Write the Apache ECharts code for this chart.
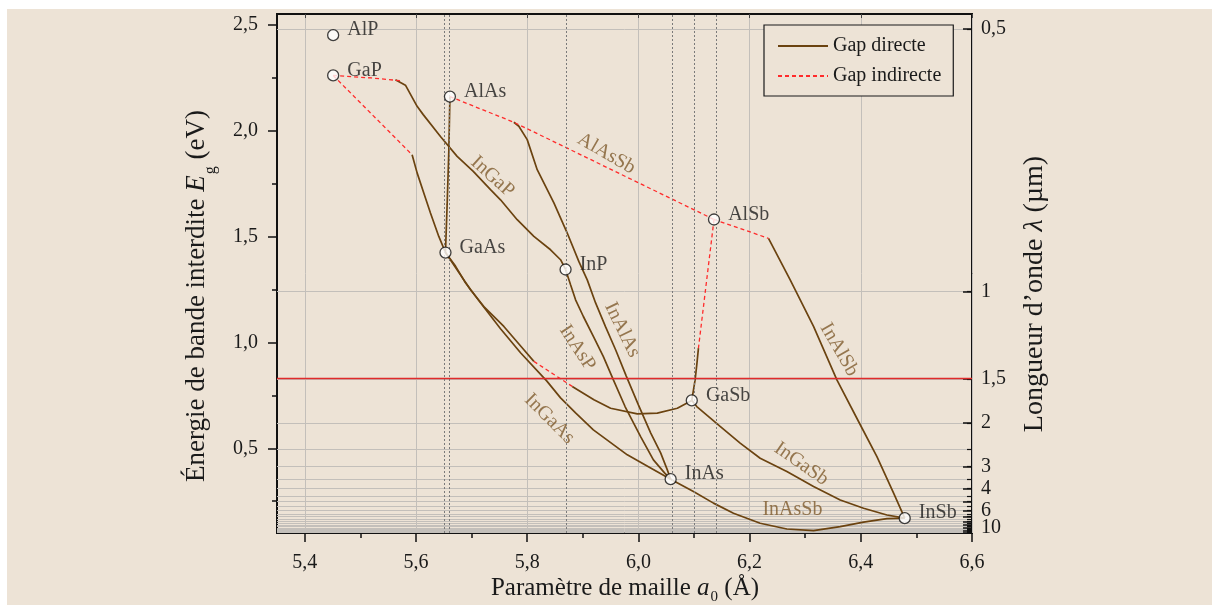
<!DOCTYPE html>
<html>
<head>
<meta charset="utf-8">
<script src="https://cdn.jsdelivr.net/npm/echarts@6/dist/echarts.min.js"></script>
<style>
  html, body { margin: 0; padding: 0; background: #ffffff; }
  #paper { position: absolute; left: 7px; top: 9px; width: 1205px; height: 596px; background: #ede3d6; }
  #chart { position: absolute; left: 0; top: 0; width: 1212px; height: 605px; }
</style>
</head>
<body>
<div id="paper"></div>
<div id="chart"></div>
<script>
// Photon energy <-> wavelength: E (eV) = HC / lambda (µm)
const HC = 1.24;

// Binary compounds: lattice constant a0 (Å) and band gap Eg (eV)
const materials        = ['AlP', 'GaP', 'AlAs', 'GaAs', 'InP', 'AlSb', 'GaSb', 'InAs', 'InSb'];
const latticeConstants = [5.451, 5.451, 5.661, 5.653, 5.869, 6.136, 6.096, 6.058, 6.479];
const bandGaps         = [2.45, 2.26, 2.16, 1.424, 1.344, 1.58, 0.726, 0.354, 0.17];
// Binaries marked with a vertical dotted guide
const guideMaterials = ['GaAs', 'AlAs', 'InP', 'InAs', 'GaSb', 'AlSb'];

// Axis ticks
const latticeTicks      = [5.4, 5.6, 5.8, 6.0, 6.2, 6.4, 6.6];
const latticeMinorTicks = [5.4, 5.5, 5.6, 5.7, 5.8, 5.9, 6.0, 6.1, 6.2, 6.3, 6.4, 6.5, 6.6];
const energyTicks       = [0.5, 1.0, 1.5, 2.0, 2.5];
const energyMinorTicks  = [0.25, 0.75, 1.25, 1.75, 2.25];
const wavelengthLabels  = [0.5, 1, 1.5, 2, 3, 4, 6, 10];
const wavelengthMajor   = [0.5, 1, 1.5, 2, 3, 4, 5, 6, 7, 8, 9, 10, 11, 12];
const wavelengthGrid    = [0.5, 1, 1.5, 2, 2.5, 3, 3.5, 4, 4.5, 5, 5.5, 6, 6.5, 7, 7.5,
                           8, 8.5, 9, 9.5, 10, 10.5, 11, 11.5, 12];
const telecomWavelength = 1.5;

// Ternary alloys, direct-gap branches: [a0 (Å), Eg (eV)]
const InGaP_direct  = [[5.563, 2.240], [5.581, 2.214], [5.602, 2.114], [5.613, 2.075], [5.644, 1.972],
                       [5.674, 1.878], [5.703, 1.807], [5.734, 1.721], [5.752, 1.673], [5.782, 1.579],
                       [5.812, 1.500], [5.842, 1.437], [5.860, 1.390], [5.869, 1.344]];
const GaAsP_direct  = [[5.593, 1.886], [5.602, 1.800], [5.614, 1.705], [5.626, 1.611], [5.641, 1.500],
                       [5.653, 1.424]];
const AlGaAs        = [[5.661, 2.160], [5.659, 1.900], [5.656, 1.650], [5.653, 1.424]];
const InAlAs_direct = [[5.776, 2.039], [5.785, 2.020], [5.800, 1.957], [5.818, 1.815], [5.848, 1.658],
                       [5.872, 1.516], [5.893, 1.381], [5.908, 1.295], [5.923, 1.186], [5.941, 1.073],
                       [5.959, 0.965], [5.978, 0.842], [6.000, 0.705], [6.022, 0.573], [6.040, 0.478],
                       [6.052, 0.398], [6.058, 0.354]];
const InAsP         = [[5.869, 1.344], [5.878, 1.272], [5.887, 1.201], [5.901, 1.122], [5.919, 1.028],
                       [5.937, 0.933], [5.955, 0.823], [5.976, 0.697], [6.004, 0.555], [6.027, 0.445],
                       [6.047, 0.384], [6.058, 0.354]];
const InGaAs        = [[5.653, 1.424], [5.671, 1.360], [5.689, 1.281], [5.716, 1.187], [5.752, 1.064],
                       [5.788, 0.951], [5.835, 0.818], [5.860, 0.738], [5.887, 0.667], [5.919, 0.587],
                       [5.980, 0.469], [6.022, 0.407], [6.058, 0.354]];
const GaAsSb_upper  = [[5.653, 1.424], [5.698, 1.248], [5.722, 1.169], [5.758, 1.075], [5.794, 0.965],
                       [5.812, 0.910]];
const GaAsSb_lower  = [[5.881, 0.792], [5.920, 0.729], [5.950, 0.689], [5.998, 0.662], [6.034, 0.666],
                       [6.070, 0.689], [6.096, 0.726]];
const AlGaSb_direct = [[6.108, 0.973], [6.105, 0.894], [6.102, 0.823], [6.096, 0.726]];
const InAlSb_direct = [[6.234, 1.491], [6.273, 1.295], [6.315, 1.075], [6.357, 0.823], [6.399, 0.611],
                       [6.429, 0.461], [6.459, 0.288], [6.479, 0.170]];
const InGaSb        = [[6.096, 0.726], [6.105, 0.697], [6.147, 0.603], [6.183, 0.524], [6.219, 0.453],
                       [6.267, 0.390], [6.315, 0.319], [6.363, 0.256], [6.405, 0.217], [6.447, 0.185],
                       [6.479, 0.170]];
const InAsSb        = [[6.058, 0.354], [6.099, 0.296], [6.135, 0.241], [6.171, 0.193], [6.219, 0.146],
                       [6.267, 0.119], [6.315, 0.111], [6.363, 0.130], [6.405, 0.151], [6.447, 0.168],
                       [6.479, 0.170]];

// Indirect-gap branches (and the GaAsSb miscibility gap)
const InGaP_indirect  = [[5.451, 2.260], [5.520, 2.248], [5.572, 2.235]];
const GaAsP_indirect  = [[5.451, 2.260], [5.591, 1.891]];
const AlAsSb          = [[5.661, 2.160], [5.776, 2.039], [6.136, 1.580]];
const GaAsSb_gap      = [[5.812, 0.910], [5.846, 0.852], [5.881, 0.792]];
const AlGaSb_indirect = [[6.136, 1.580], [6.108, 0.973]];
const InAlSb_indirect = [[6.136, 1.580], [6.234, 1.491]];

const directBranches   = [InGaP_direct, GaAsP_direct, AlGaAs, InAlAs_direct, InAsP, InGaAs,
                          GaAsSb_upper, GaAsSb_lower, AlGaSb_direct, InAlSb_direct, InGaSb, InAsSb];
const indirectBranches = [InGaP_indirect, GaAsP_indirect, AlAsSb, GaAsSb_gap, AlGaSb_indirect, InAlSb_indirect];

// Alloy names written along their curves: [name, a0, Eg]
const alloyNames = [
  ['InGaP', 5.7375, 1.782],
  ['AlAsSb', 5.9425, 1.891],
  ['InAlAs', 5.971, 1.059],
  ['InAsP', 5.890, 0.974],
  ['InGaAs', 5.840, 0.639],
  ['InAlSb', 6.361, 0.965],
  ['InGaSb', 6.293, 0.426],
  ['InAsSb', 6.277, 0.209]
];
const alloyAngles = { InGaP: -42, AlAsSb: -30, InAlAs: -64, InAsP: -57, InGaAs: -45, InAlSb: -60, InGaSb: -35, InAsSb: 0 };

// ---- styling ----
const FONT = 'Liberation Serif';
const INK = '#1a1a1a';
const BROWN = '#6b4310';
const LABEL_BROWN = '#7e5a2c';
const RED = '#ff2b2b';
const GRID_GRAY = '#c3bfba';

const comma = v => String(v).replace('.', ',');
const fixed1 = v => v.toFixed(1).replace('.', ',');
const toEnergy = lam => HC / lam;
const wavelengthText = v => comma(Math.round(HC / v * 2) / 2);

// The wavelength labels crowd together near the bottom, so they are shared
// alternately between the two right-hand axes (no label collides with its neighbour).
const wavelengthLabelsA = wavelengthLabels.filter((_, i) => i % 2 === 0);
const wavelengthLabelsB = wavelengthLabels.filter((_, i) => i % 2 === 1);

const X_RANGE = { min: 5.35, max: 6.6 };
const Y_RANGE = { min: 0.1, max: 2.55 };

const chart = echarts.init(document.getElementById('chart'), null, { renderer: 'canvas' });

const curveSeries = [];
directBranches.forEach(d => curveSeries.push({
  type: 'line', name: 'Gap directe', data: d, symbol: 'none', silent: true, z: 3,
  lineStyle: { color: BROWN, width: 1.7 }, itemStyle: { color: BROWN }
}));
indirectBranches.forEach(d => curveSeries.push({
  type: 'line', name: 'Gap indirecte', data: d, symbol: 'none', silent: true, z: 3,
  lineStyle: { color: RED, width: 1.3, type: [4, 3] }, itemStyle: { color: RED }
}));

const guideLines = guideMaterials.map(m => ({ xAxis: latticeConstants[materials.indexOf(m)] }));

const rightLabelStyle = {
  margin: 9, fontSize: 20, color: INK, fontFamily: FONT,
  showMinLabel: true, showMaxLabel: true, formatter: wavelengthText
};

const option = {
  animation: false,
  backgroundColor: 'transparent',
  textStyle: { fontFamily: FONT },
  grid: {
    left: 277, top: 14, width: 695, height: 519,
    containLabel: false, outerBoundsMode: 'none',
    show: true, borderColor: '#111', borderWidth: 2, backgroundColor: 'transparent'
  },
  legend: {
    data: ['Gap directe', 'Gap indirecte'],
    orient: 'vertical', left: 764, top: 25,
    itemWidth: 50, itemHeight: 14, itemGap: 10, itemTextGap: 6,
    padding: [11, 12, 10, 13],
    backgroundColor: '#ede3d6', borderColor: INK, borderWidth: 1.2, borderRadius: 0,
    itemStyle: { opacity: 0, borderWidth: 0 },
    textStyle: { fontFamily: FONT, fontSize: 20, color: INK },
    selectedMode: false
  },
  xAxis: [
    {
      type: 'value', ...X_RANGE, position: 'bottom',
      axisLine: { show: false },
      axisTick: { show: true, customValues: latticeTicks, length: 9, lineStyle: { color: '#111', width: 1.5 } },
      axisLabel: { customValues: latticeTicks, formatter: fixed1, margin: 20, fontSize: 20, color: INK, fontFamily: FONT },
      splitLine: { show: true, lineStyle: { color: GRID_GRAY, width: 1 } }
    },
    {
      type: 'value', ...X_RANGE, position: 'bottom',
      axisLine: { show: false },
      axisTick: { show: true, customValues: latticeMinorTicks, length: 5, lineStyle: { color: '#111', width: 1.5 } },
      axisLabel: { show: false }, splitLine: { show: false }
    },
    {
      type: 'value', ...X_RANGE, position: 'top',
      axisLine: { show: false },
      axisTick: { show: true, inside: true, customValues: latticeTicks, length: 4, lineStyle: { color: '#444', width: 1 } },
      axisLabel: { show: false }, splitLine: { show: false }
    }
  ],
  yAxis: [
    {
      type: 'value', ...Y_RANGE, position: 'left',
      axisLine: { show: false },
      axisTick: { show: true, customValues: energyTicks, length: 9, lineStyle: { color: '#111', width: 1.5 } },
      axisLabel: { customValues: energyTicks, formatter: fixed1, margin: 19, fontSize: 20, color: INK, fontFamily: FONT },
      splitLine: { show: false }
    },
    {
      type: 'value', ...Y_RANGE, position: 'left',
      axisLine: { show: false },
      axisTick: { show: true, customValues: energyMinorTicks, length: 5, lineStyle: { color: '#111', width: 1.5 } },
      axisLabel: { show: false }, splitLine: { show: false }
    },
    {
      type: 'value', ...Y_RANGE, position: 'right',
      axisLine: { show: false },
      axisTick: { show: true, inside: true, customValues: wavelengthMajor.map(toEnergy), length: 9, lineStyle: { color: '#111', width: 1.5 } },
      axisLabel: { ...rightLabelStyle, customValues: wavelengthLabelsA.map(toEnergy) },
      splitLine: { show: false }
    },
    {
      type: 'value', ...Y_RANGE, position: 'right',
      axisLine: { show: false },
      axisTick: { show: true, inside: true, customValues: wavelengthGrid.map(toEnergy), length: 5, lineStyle: { color: '#111', width: 1.2 } },
      axisLabel: { ...rightLabelStyle, customValues: wavelengthLabelsB.map(toEnergy) },
      splitLine: { show: true, lineStyle: { color: GRID_GRAY, width: 1 } }
    }
  ],
  graphic: [
    {
      type: 'text', x: 625, y: 588, silent: true,
      style: {
        text: 'Paramètre de maille {i|a}{s|0} (Å)',
        fontFamily: FONT, fontSize: 25, fill: INK, align: 'center', verticalAlign: 'middle',
        rich: {
          i: { fontFamily: FONT, fontSize: 25, fontStyle: 'italic', fill: INK },
          s: { fontFamily: FONT, fontSize: 15, fill: INK, verticalAlign: 'bottom', padding: [19, 0, 0, 1] }
        }
      }
    },
    {
      type: 'text', x: 197, y: 296, rotation: Math.PI / 2, silent: true,
      style: {
        text: 'Énergie de bande interdite {i|E}{s|g} (eV)',
        fontFamily: FONT, fontSize: 27, fill: INK, align: 'center', verticalAlign: 'middle',
        rich: {
          i: { fontFamily: FONT, fontSize: 27, fontStyle: 'italic', fill: INK },
          s: { fontFamily: FONT, fontSize: 16, fill: INK, verticalAlign: 'bottom', padding: [27, 0, 0, 1] }
        }
      }
    },
    {
      type: 'text', x: 1035, y: 294, rotation: Math.PI / 2, silent: true,
      style: {
        text: 'Longueur d’onde {i|λ} (µm)',
        fontFamily: FONT, fontSize: 28, fill: INK, align: 'center', verticalAlign: 'middle',
        rich: {
          i: { fontFamily: FONT, fontSize: 28, fontStyle: 'italic', fill: INK }
        }
      }
    }
  ],
  series: [
    {
      type: 'line', name: 'repères', data: [], symbol: 'none', silent: true, z: 1,
      markLine: {
        silent: true, symbol: 'none', animation: false,
        label: { show: false },
        data: [
          ...guideLines.map(g => ({ ...g, lineStyle: { color: '#7a7a7a', width: 1, type: [2, 2] } })),
          { yAxis: toEnergy(telecomWavelength), lineStyle: { color: '#e02a2a', width: 1.3, type: 'solid' } }
        ]
      }
    },
    ...curveSeries,
    {
      type: 'scatter', name: 'alliages', silent: true, z: 4,
      symbolSize: 1, itemStyle: { color: 'transparent' },
      data: alloyNames.map(([n, a, e]) => ({
        name: n, value: [a, e],
        label: { rotate: alloyAngles[n] }
      })),
      label: {
        show: true, position: 'inside', formatter: p => p.name,
        fontFamily: FONT, fontSize: 20, color: LABEL_BROWN, align: 'center', verticalAlign: 'middle'
      }
    },
    {
      type: 'scatter', name: 'binaires', silent: true, z: 5,
      symbol: 'circle', symbolSize: 11,
      itemStyle: { color: '#ffffff', borderColor: '#111', borderWidth: 1.3 },
      data: materials.map((m, i) => ({ name: m, value: [latticeConstants[i], bandGaps[i]] })),
      label: {
        show: true, position: 'right', distance: 8, offset: [0, -5], formatter: p => p.name,
        fontFamily: FONT, fontSize: 20, color: INK
      }
    }
  ]
};

chart.setOption(option);
</script>
</body>
</html>
